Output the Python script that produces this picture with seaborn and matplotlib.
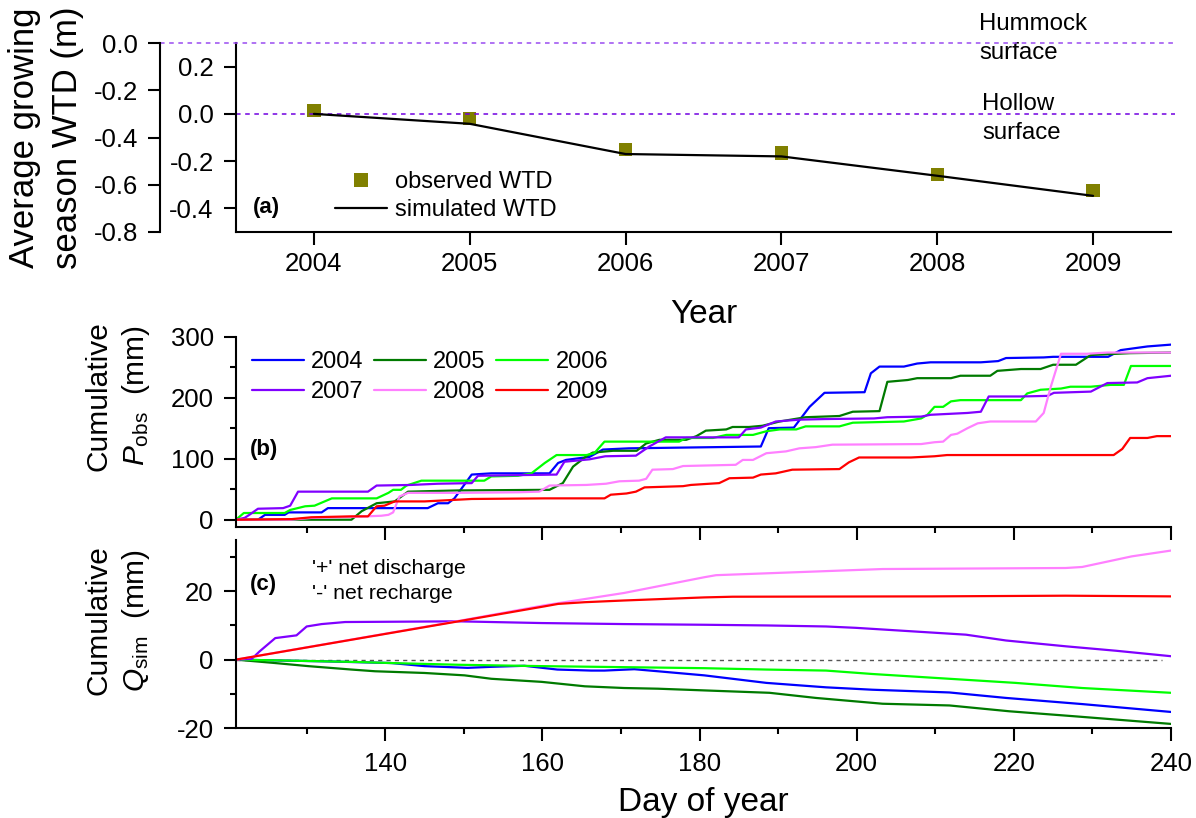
import numpy as np
import pandas as pd
import matplotlib
matplotlib.use("Agg")
import matplotlib.pyplot as plt
import seaborn as sns
from matplotlib.ticker import MultipleLocator, FormatStrFormatter
from matplotlib.lines import Line2D

# ---------------- (a) growing-season water table depth ----------------
years = [2004, 2005, 2006, 2007, 2008, 2009]
wtd_observed = [0.013, -0.020, -0.152, -0.165, -0.258, -0.325]
wtd_simulated = [0.0, -0.042, -0.170, -0.180, -0.262, -0.347]
hummock_level = 0.3
hollow_level = 0.0

# ---------------- (b) cumulative observed precipitation (mm) ----------------
p_days_2004 = [121, 123.8, 124.7, 127.2, 127.7, 131.9, 132.7, 145.4, 146.7, 148, 148.8, 151, 153.5, 160.9,
               162, 163, 166, 167.7, 171, 187.8, 188.8, 192, 194, 195.9, 201, 201.8, 202.9, 206, 207.7,
               209.4, 215.8, 218, 219, 223.8, 225, 232, 233.6, 237, 240]
p_vals_2004 = [0, 0, 8, 8, 12, 12, 19, 19, 27, 27, 35, 74, 76, 76,
               93, 98, 103, 115, 117, 120, 150, 151, 185, 208, 209, 240, 251, 251, 256,
               258, 258, 260, 265, 266, 267, 267, 278, 284, 287]

p_days_2005 = [121, 135.7, 137, 138.9, 141.2, 142.9, 149.3, 160.9, 162.6, 163.9, 165.6, 166.4, 169, 172,
               173.2, 174.9, 178.3, 179.6, 180.8, 183.4, 184.2, 186.3, 188, 190.2, 193.5, 197.8, 199.5,
               202.9, 203.9, 206.5, 207.7, 212, 213.2, 217, 217.9, 220.9, 223.4, 225, 227.9, 229.8,
               234.8, 240]
p_vals_2005 = [0, 0, 14, 27, 30, 46, 48, 49, 60, 87, 104, 110, 113, 113,
               125, 131, 131, 137, 146, 148, 152, 152, 154, 161, 168, 170, 177,
               178, 226, 229, 232, 232, 236, 236, 244, 247, 247, 254, 254, 270,
               273, 274]

p_days_2006 = [121, 122, 127.2, 127.9, 129.8, 131, 133.2, 138.9, 140.4, 141, 142, 142.7, 144.6, 152.6,
               153.5, 156.9, 158.6, 160.3, 161.8, 165.6, 166.6, 167.9, 177.4, 178.3, 181.7, 183.4,
               186.8, 188.5, 190.2, 192.3, 193.5, 197.8, 199.5, 206, 208.2, 209, 209.9, 211, 212,
               213.2, 220.9, 221.7, 223.4, 226, 227.2, 229.8, 232.3, 234, 234.9, 240]
p_vals_2006 = [0, 11, 11, 16, 22, 23, 35, 35, 44, 49, 49, 56, 64, 64,
               71, 72, 76, 93, 106, 106, 109, 128, 128, 134, 134, 139,
               139, 145, 148, 148, 153, 153, 159, 161, 166, 172, 185, 185, 194,
               196, 196, 207, 213, 215, 218, 218, 221, 221, 252, 252]

p_days_2007 = [121, 122.1, 122.7, 123.8, 127, 127.9, 128.9, 137.8, 138.9, 143.3, 146.7, 151, 151.8,
               156.5, 161.8, 162.8, 166, 168, 171.9, 173.6, 175.7, 185, 185.9, 187.8, 189.7, 192.7,
               196, 202.2, 203.9, 208.2, 209.4, 214.1, 215.8, 216.8, 220.9, 224.3, 225.1, 229.8,
               231.9, 235.7, 237, 240]
p_vals_2007 = [0, 3, 8, 18, 19, 23, 46, 46, 56, 57, 59, 60, 72,
               73, 74, 95, 99, 104, 105, 120, 135, 135, 148, 151, 161, 164,
               165, 166, 168, 169, 172, 175, 177, 202, 202, 203, 208, 210,
               224, 225, 232, 236]

p_days_2008 = [121, 128, 130.6, 136.6, 139.5, 140.4, 141, 141.8, 142.9, 149.3, 157, 159.6, 160.9, 165.6,
               168.1, 169.8, 172.3, 173.2, 174, 176.6, 177.9, 184.6, 185.5, 186.8, 188.5, 191, 192.7,
               194.8, 196.9, 208.2, 209.9, 211, 212, 212.8, 214.1, 215.4, 217, 222.8, 223.8, 224.7,
               226, 229.3, 231.9, 240]
p_vals_2008 = [0, 0, 3, 5, 6.5, 8, 12, 38, 44, 44, 45, 46, 56, 57,
               59, 63, 64, 67, 82, 83, 88, 90, 98, 98, 109, 112, 117,
               119, 123, 124, 127, 128, 139, 141, 150, 158, 161, 161, 175, 218,
               272, 272, 274, 274]

p_days_2009 = [121, 128.1, 130.6, 135.7, 137.8, 138.9, 139.9, 141.2, 145, 148, 151, 160.3, 167.9, 168.7,
               170.7, 171.9, 173, 177.9, 178.9, 182.5, 183.8, 186.8, 187.8, 189.7, 191.8, 197.8, 199,
               200.3, 206.9, 209.9, 211.5, 232.7, 233.8, 234.8, 237, 238.2, 240]
p_vals_2009 = [0, 1, 4, 5.5, 5.5, 22, 23, 30, 30, 32, 34, 35, 35, 41,
               43, 46, 53, 55, 57, 60, 68, 69, 74, 76, 82, 83, 94,
               102, 102, 104, 106, 106, 116, 134, 134, 137, 137]

# ---------------- (c) cumulative simulated lateral flow (mm) ----------------
q_days_2004 = [121, 132.3, 140.8, 145, 150.5, 153.5, 157.7, 161.9, 166.2, 167.9, 171.7, 174.7, 180.6,
               188.5, 196.1, 202, 211.8, 219, 228.7, 240]
q_vals_2004 = [0, -0.5, -1.0, -1.9, -2.4, -2.1, -1.8, -2.9, -3.2, -3.2, -2.8, -3.4, -4.6,
               -6.8, -8.1, -8.8, -9.6, -11.2, -13.0, -15.3]

q_days_2005 = [121, 126, 130.2, 135.7, 138.7, 145, 150.1, 153.5, 159.9, 165.4, 170.4, 174.7, 180.6,
               188.9, 194.8, 203.3, 211.8, 219.4, 227.9, 240]
q_vals_2005 = [0, -1.0, -1.9, -2.9, -3.4, -3.9, -4.6, -5.6, -6.5, -7.8, -8.3, -8.5, -9.0,
               -9.7, -11.2, -12.9, -13.4, -15.1, -16.6, -18.8]

q_days_2006 = [121, 128, 136.6, 140.8, 149.3, 159.9, 170.4, 180.6, 188.5, 196.1, 202, 211.8, 220.2,
               228.7, 240]
q_vals_2006 = [0, -0.3, -0.7, -1.0, -1.5, -1.9, -2.2, -2.5, -2.9, -3.2, -4.2, -5.6, -6.8,
               -8.3, -9.7]

q_days_2007 = [121, 123, 124, 126, 128.7, 130, 131.9, 134.9, 149.3, 159.9, 170.4, 180.6, 188.5, 196.1,
               199.9, 213.9, 219, 226.6, 233, 240]
q_vals_2007 = [0, 0.2, 2.4, 6.3, 7.1, 9.7, 10.4, 11.0, 11.2, 10.7, 10.4, 10.2, 10.0, 9.7,
               9.3, 7.3, 5.6, 3.9, 2.6, 1.0]

q_days_2008 = [121, 149.3, 160.3, 170.4, 180.6, 182.1, 192.7, 203.3, 226.6, 228.7, 235, 240]
q_vals_2008 = [0, 11.3, 15.9, 19.5, 24.1, 24.7, 25.6, 26.5, 26.8, 27.1, 30.2, 31.9]

q_days_2009 = [121, 149.3, 160.3, 162, 165.4, 170.4, 180.6, 184.2, 209.6, 226.6, 240]
q_vals_2009 = [0, 11.2, 15.6, 16.3, 16.8, 17.3, 18.2, 18.4, 18.5, 18.7, 18.5]

series_years = ["2004", "2005", "2006", "2007", "2008", "2009"]
series_colors = ["#0000ff", "#007a00", "#00ff00", "#8000ff", "#ff80ff", "#ff0000"]

p_days = [p_days_2004, p_days_2005, p_days_2006, p_days_2007, p_days_2008, p_days_2009]
p_vals = [p_vals_2004, p_vals_2005, p_vals_2006, p_vals_2007, p_vals_2008, p_vals_2009]
q_days = [q_days_2004, q_days_2005, q_days_2006, q_days_2007, q_days_2008, q_days_2009]
q_vals = [q_vals_2004, q_vals_2005, q_vals_2006, q_vals_2007, q_vals_2008, q_vals_2009]


def long_frame(days_list, vals_list):
    parts = [pd.DataFrame({"day": d, "value": v, "year": y})
             for y, d, v in zip(series_years, days_list, vals_list)]
    return pd.concat(parts, ignore_index=True)


df_p = long_frame(p_days, p_vals)
df_q = long_frame(q_days, q_vals)
palette = dict(zip(series_years, series_colors))

# ---------------- style ----------------
sns.set_theme(style="ticks")
plt.rcParams.update({
    "font.family": ["Liberation Sans", "DejaVu Sans"],
    "mathtext.fontset": "custom",
    "mathtext.rm": "Liberation Sans",
    "mathtext.it": "Liberation Sans:italic",
    "axes.unicode_minus": False,
    "axes.edgecolor": "black",
    "axes.labelcolor": "black",
    "text.color": "black",
    "xtick.color": "black",
    "ytick.color": "black",
    "axes.linewidth": 1.5,
    "xtick.major.width": 1.5, "ytick.major.width": 1.5,
    "xtick.minor.width": 1.5, "ytick.minor.width": 1.5,
    "xtick.major.size": 9, "ytick.major.size": 9,
    "xtick.minor.size": 4.5, "ytick.minor.size": 4.5,
    "xtick.direction": "out", "ytick.direction": "out",
    "xtick.labelsize": 18.5, "ytick.labelsize": 18.5,
    "xtick.major.pad": 5, "ytick.major.pad": 7,
})

fig = plt.figure(figsize=(11.96, 8.18), dpi=100)
ax_a = fig.add_axes([0.1973, 0.7164, 0.7818, 0.2310])
ax_b = fig.add_axes([0.1973, 0.3557, 0.7818, 0.2327])
ax_c = fig.add_axes([0.1973, 0.1100, 0.7818, 0.2299])

# ---------------- panel (a) ----------------
sns.scatterplot(x=years, y=wtd_observed, marker="s", s=92, color="#808000",
                edgecolor="none", ax=ax_a, zorder=2, legend=False)
sns.lineplot(x=years, y=wtd_simulated, color="black", lw=1.6, ax=ax_a, zorder=3, legend=False)
ax_a.axhline(hollow_level, xmin=0, xmax=1.004, color="#7000e0", lw=1.1,
             ls=(0, (3, 3)), clip_on=False)
ax_a.set_xlim(2003.5, 2009.5)
ax_a.set_ylim(-0.5, 0.3)
ax_a.set_xticks(years)
ax_a.set_xticklabels([str(y) for y in years])
ax_a.set_yticks([0.2, 0.0, -0.2, -0.4])
ax_a.yaxis.set_major_formatter(FormatStrFormatter("%.1f"))
ax_a.spines[["top", "right"]].set_visible(False)
ax_a.tick_params(axis="x", length=9.5)
ax_a.set_xlabel("Year", fontsize=24, labelpad=16.5)
ax_a.set_ylabel("")

# outer depth scale, referenced to the hummock surface
ax_o = ax_a.twinx()
ax_o.set_ylim(hollow_level - hummock_level - 0.5, hollow_level)
ax_o.set_yticks([0.0, -0.2, -0.4, -0.6, -0.8])
ax_o.yaxis.set_major_formatter(FormatStrFormatter("%.1f"))
ax_o.yaxis.tick_left()
ax_o.yaxis.set_label_position("left")
ax_o.spines["left"].set_visible(True)
ax_o.spines["left"].set_position(("outward", 54.7))
ax_o.spines[["right", "top", "bottom"]].set_visible(False)
ax_o.axhline(0.0, xmin=-76 / 935, xmax=1.004, color="#9a4cf0", lw=1.1,
             ls=(0, (3, 3)), clip_on=False)
ax_o.set_ylabel("Average growing\nseason WTD (m)", fontsize=25, linespacing=1.38)
ax_o.yaxis.set_label_coords(-0.163, 0.5)

ax_a.text(2008.27, hummock_level + 0.018, "Hummock\nsurface", fontsize=17.3,
          ha="left", va="center", linespacing=1.42, clip_on=False)
ax_a.text(2008.29, hollow_level - 0.02, "Hollow\nsurface", fontsize=17.3,
          ha="left", va="center", linespacing=1.42, clip_on=False)
ax_a.text(0.018, 0.127, "(a)", transform=ax_a.transAxes, fontsize=16,
          fontweight="bold", ha="left", va="center")

legend_a = [Line2D([], [], marker="s", ls="none", color="#808000", markersize=9.6,
                   markeredgewidth=0),
            Line2D([], [], color="black", lw=1.6)]
ax_a.legend(legend_a, ["observed WTD", "simulated WTD"], loc="center left",
            bbox_to_anchor=(0.106, 0.19), frameon=False, fontsize=17,
            handlelength=2.2, handletextpad=0.35, borderpad=0, borderaxespad=0,
            labelspacing=0.27)

# ---------------- panel (b) ----------------
sns.lineplot(data=df_p, x="day", y="value", hue="year", hue_order=series_years,
             palette=palette, estimator=None, sort=False, lw=1.6, ax=ax_b, legend=False)
ax_b.set_xlim(121, 240)
ax_b.set_ylim(-12, 300)
ax_b.xaxis.set_major_locator(MultipleLocator(20))
ax_b.xaxis.set_minor_locator(MultipleLocator(10))
ax_b.yaxis.set_major_locator(MultipleLocator(100))
ax_b.yaxis.set_minor_locator(MultipleLocator(50))
ax_b.tick_params(axis="x", which="both", labelbottom=False)
ax_b.spines[["top", "right"]].set_visible(False)
ax_b.set_xlabel("")
ax_b.set_ylabel("Cumulative\n$P_{\\rm obs}$  (mm)", fontsize=21.5, linespacing=1.3)
ax_b.yaxis.set_label_coords(-0.09, 0.69)
ax_b.text(0.015, 0.405, "(b)", transform=ax_b.transAxes, fontsize=16,
          fontweight="bold", ha="left", va="center")

lines_b = ax_b.get_lines()
order = [0, 3, 1, 4, 2, 5]
ax_b.legend([lines_b[i] for i in order], [series_years[i] for i in order], ncol=3,
            loc="center left", bbox_to_anchor=(0.0171, 0.788), frameon=False,
            fontsize=17, handlelength=2.2, handletextpad=0.3, columnspacing=0.45,
            borderpad=0, borderaxespad=0, labelspacing=0.32)

# ---------------- panel (c) ----------------
sns.lineplot(data=df_q, x="day", y="value", hue="year", hue_order=series_years,
             palette=palette, estimator=None, sort=False, lw=1.6, ax=ax_c, legend=False)
ax_c.axhline(0, xmin=0, xmax=0.99, color="#555555", lw=1.0, ls=(0, (3, 3)), zorder=0)
ax_c.set_xlim(121, 240)
ax_c.set_ylim(-20, 35)
ax_c.xaxis.set_major_locator(MultipleLocator(20))
ax_c.xaxis.set_minor_locator(MultipleLocator(10))
ax_c.yaxis.set_major_locator(MultipleLocator(20))
ax_c.yaxis.set_minor_locator(MultipleLocator(10))
ax_c.set_xticks([140, 160, 180, 200, 220, 240])
ax_c.tick_params(axis="x", which="major", pad=8)
ax_c.spines[["top", "right"]].set_visible(False)
ax_c.set_xlabel("Day of year", fontsize=24, labelpad=8)
ax_c.set_ylabel("Cumulative\n$Q_{\\rm sim}$  (mm)", fontsize=21.5, linespacing=1.3)
ax_c.yaxis.set_label_coords(-0.09, 0.574)
ax_c.text(0.015, 0.761, "(c)", transform=ax_c.transAxes, fontsize=16,
          fontweight="bold", ha="left", va="center")
ax_c.text(0.081, 0.782, "'+' net discharge\n'-' net recharge", transform=ax_c.transAxes,
          fontsize=15.3, ha="left", va="center", linespacing=1.35)

fig.savefig("out.png", dpi=100)
